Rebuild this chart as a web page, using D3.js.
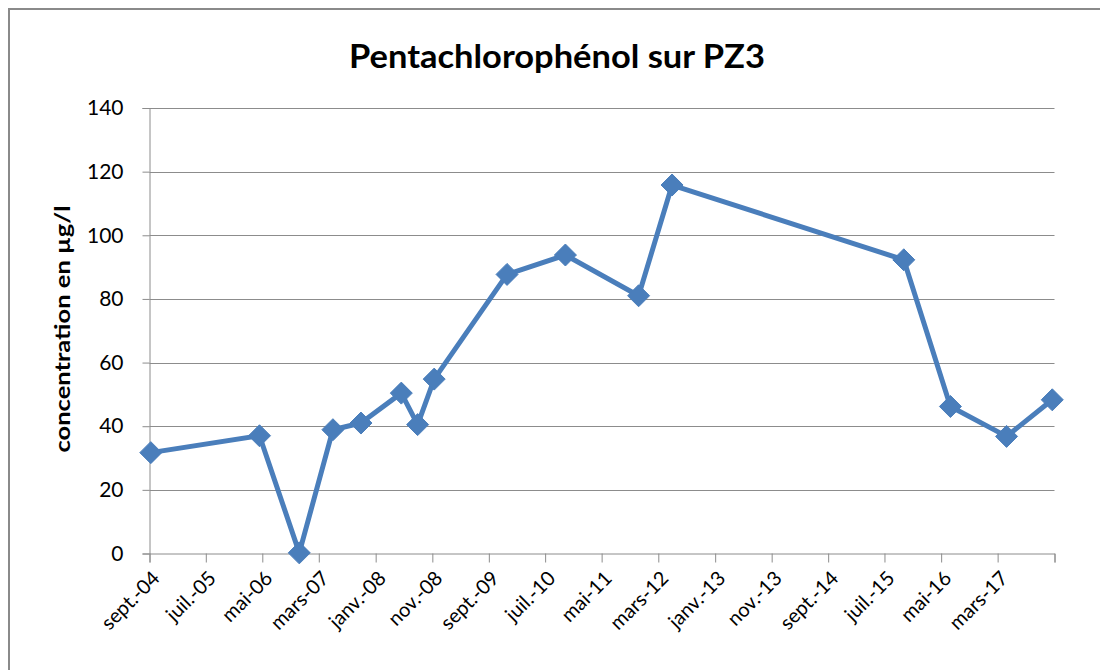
<!DOCTYPE html>
<html>
<head>
<meta charset="utf-8">
<script src="https://cdn.jsdelivr.net/npm/d3@7"></script>
<style>
  body { margin: 0; background: #fff; }
  svg { display: block; }
</style>
</head>
<body>
<svg id="chart" width="1100" height="670"></svg>
<script>
// ---- data ----
const sampleDates = ["2004-09-08","2006-04-16","2006-11-16","2007-05-16","2007-10-14","2008-05-18","2008-08-14","2008-11-11","2009-12-08","2010-10-18","2011-11-16","2012-05-14","2015-10-13","2016-06-20","2017-04-18","2017-12-20"];
const concentrations = [31.7, 37.0, 0.2, 38.9, 41.0, 50.4, 40.5, 54.8, 87.7, 93.8, 81.0, 115.8, 92.3, 46.2, 36.8, 48.3];
const yTicks = [0, 20, 40, 60, 80, 100, 120, 140];
const xTickLabels = ["sept.-04","juil.-05","mai-06","mars-07","janv.-08","nov.-08","sept.-09","juil.-10","mai-11","mars-12","janv.-13","nov.-13","sept.-14","juil.-15","mai-16","mars-17",""];
const axisStart = "2004-09-01";
const axisEnd = "2018-01-01";
const title = "Pentachlorophénol sur PZ3";
const yTitle = "concentration en µg/l";

// ---- setup ----
(function () {
const parse = d3.timeParse("%Y-%m-%d");
const data = sampleDates.map((d, i) => ({date: parse(d), value: concentrations[i]}));
const start = parse(axisStart), end = parse(axisEnd);
const tickDates = xTickLabels.map((_, i) => d3.timeMonth.offset(start, 10 * i));

const svg = d3.select("#chart");
const font = "Lato, 'Open Sans', sans-serif";
const pL = 149.5, pR = 1054.5, pT = 108, pB = 553.5;

const x = d3.scaleTime().domain([start, end]).range([pL, pR]);
const y = d3.scaleLinear().domain([0, 140]).range([pB, pT]);

// outer border
svg.append("rect").attr("x", 9).attr("y", 9).attr("width", 1200).attr("height", 800)
  .attr("fill", "#fff").attr("stroke", "#8a8a8a").attr("stroke-width", 2);

// title
svg.append("text").attr("x", 557).attr("y", 68).attr("text-anchor", "middle")
  .attr("font-family", font).attr("font-weight", "bold").attr("font-size", 32)
  .attr("textLength", 416).attr("lengthAdjust", "spacingAndGlyphs")
  .attr("fill", "#000").text(title);

// gridlines
svg.append("g").selectAll("line").data(yTicks.filter(t => t > 0)).join("line")
  .attr("x1", pL).attr("x2", pR)
  .attr("y1", d => Math.round(y(d)) + 0.5).attr("y2", d => Math.round(y(d)) + 0.5)
  .attr("stroke", "#8c8c8c").attr("stroke-width", 1);

// y axis
const yAxis = d3.axisLeft(y).tickValues(yTicks).tickSize(7).tickPadding(19);
const gy = svg.append("g").attr("transform", `translate(${pL},0)`).call(yAxis);
gy.select(".domain").attr("stroke", "#8c8c8c");
gy.selectAll(".tick line").attr("stroke", "#8c8c8c");
gy.selectAll(".tick text").attr("font-family", font).attr("font-size", 21).attr("fill", "#000");

// x axis
const xAxis = d3.axisBottom(x).tickValues(tickDates).tickSize(9).tickFormat((d, i) => xTickLabels[i]);
const gx = svg.append("g").attr("transform", `translate(0,${pB})`).call(xAxis);
gx.select(".domain").attr("stroke", "#8c8c8c");
gx.selectAll(".tick line").attr("stroke", "#8c8c8c");
gx.selectAll(".tick text").attr("font-family", font).attr("font-size", 20).attr("fill", "#000")
  .attr("text-anchor", "end").attr("dy", null).attr("y", 0)
  .attr("transform", "translate(11,26) rotate(-45)");

// y title
svg.append("text").attr("transform", `translate(70,329) rotate(-90)`)
  .attr("text-anchor", "middle").attr("font-family", font).attr("font-weight", "bold")
  .attr("font-size", 21).attr("textLength", 247).attr("lengthAdjust", "spacingAndGlyphs")
  .attr("fill", "#000").text(yTitle);

// line
const line = d3.line().x(d => x(d.date)).y(d => y(d.value));
svg.append("path").datum(data).attr("d", line).attr("fill", "none")
  .attr("stroke", "#4a7ebb").attr("stroke-width", 5).attr("stroke-linejoin", "round");

// markers
const r = 11;
svg.append("g").selectAll("path").data(data).join("path")
  .attr("transform", d => `translate(${x(d.date)},${y(d.value)})`)
  .attr("d", `M0,${-r}L${r},0L0,${r}L${-r},0Z`)
  .attr("fill", "#4a7ebb").attr("stroke", "#4a7ebb").attr("stroke-width", 1);
})();
</script>
</body>
</html>
